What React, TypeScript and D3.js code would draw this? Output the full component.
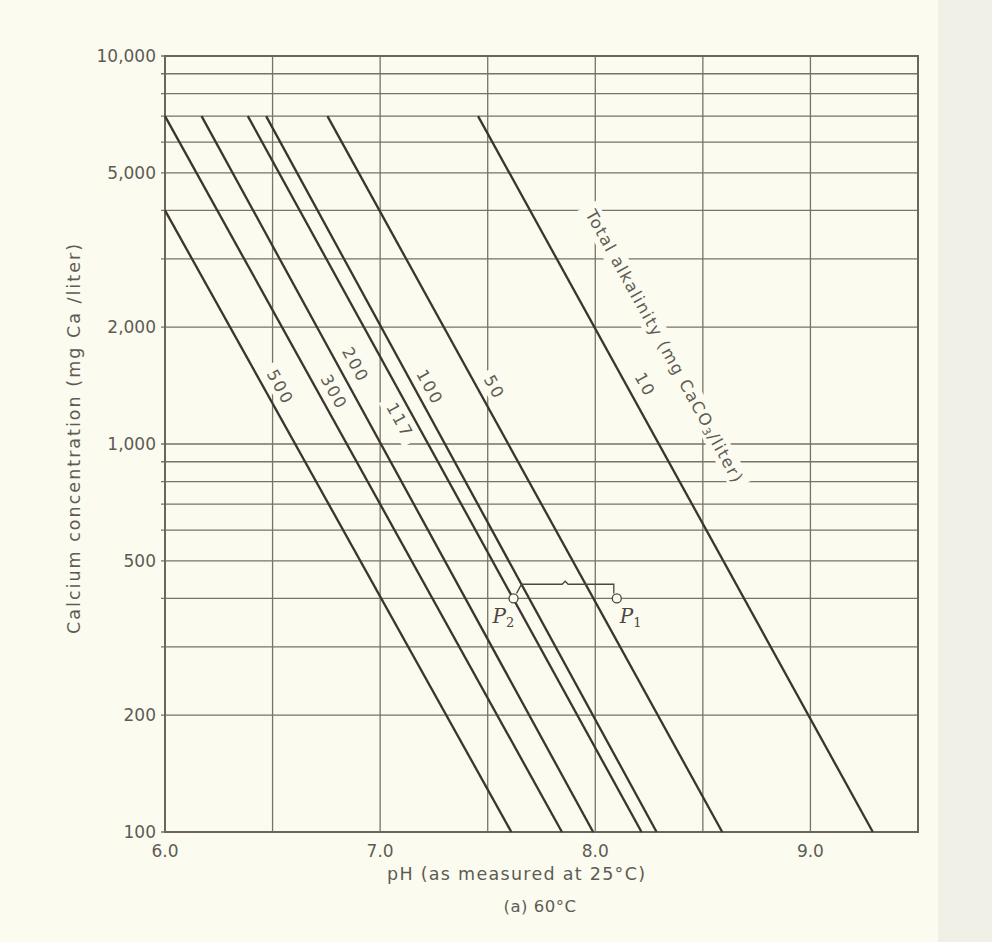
import React from "react";
import * as d3 from "d3";

// ---- data ----
const X_DOMAIN: [number, number] = [6.0, 9.5];
const Y_DOMAIN: [number, number] = [100, 10000];
const xTickValues = [6.0, 7.0, 8.0, 9.0];
const xTickLabels = ["6.0", "7.0", "8.0", "9.0"];
const xGridValues = [6.0, 6.5, 7.0, 7.5, 8.0, 8.5, 9.0, 9.5];
const yTickValues = [100, 200, 500, 1000, 2000, 5000, 10000];
const yTickLabels = ["100", "200", "500", "1,000", "2,000", "5,000", "10,000"];
const yGridValues = [
  100, 200, 300, 400, 500, 600, 700, 800, 900, 1000,
  2000, 3000, 4000, 5000, 6000, 7000, 8000, 9000, 10000,
];

// total alkalinity lines (mg CaCO3/liter)
const alkalinity = ["500", "300", "200", "117", "100", "50", "10"];
const startPH = [6.0, 6.0, 6.17, 6.385, 6.47, 6.755, 7.455];
const startCa = [4000, 7000, 7000, 7000, 7000, 7000, 7000];
const endPH = [7.61, 7.845, 7.99, 8.215, 8.285, 8.59, 9.29];
const endCa = [100, 100, 100, 100, 100, 100, 100];
const labelPH = [6.535, 6.785, 6.885, 7.09, 7.23, 7.53, 8.23];
const labelCa = [1400, 1360, 1600, 1150, 1400, 1400, 1420];

// points P1 / P2
const pointNames = ["2", "1"];
const pointPH = [7.62, 8.1];
const pointCa = [400, 400];
const bracketCa = 435;

const titleAlk = { ph: 8.32, ca: 1790 };

const W = 992;
const H = 942;

export default function App() {
  const x = d3.scaleLinear().domain(X_DOMAIN).range([165, 918]);
  const y = d3.scaleLog().domain(Y_DOMAIN).range([832, 56]);

  const lineColor = "#3a3530";
  const gridColor = "#77726b";
  const textColor = "#5e5b56";
  const paper = "#fcfbef";
  const sans = "'DejaVu Sans', Verdana, sans-serif";
  const serif = "'DejaVu Serif', 'Liberation Serif', serif";

  const line = d3
    .line<[number, number]>()
    .x((d) => x(d[0]))
    .y((d) => y(d[1]));

  const angleOf = (i: number) => {
    const dx = x(endPH[i]) - x(startPH[i]);
    const dy = y(endCa[i]) - y(startCa[i]);
    return (Math.atan2(dy, dx) * 180) / Math.PI;
  };
  const ang = angleOf(6);

  const mid = (x(pointPH[0]) + x(pointPH[1])) / 2;

  return (
    <svg
      width={W}
      height={H}
      style={{ position: "absolute", left: 0, top: 0, background: paper }}
    >
      <rect x={0} y={0} width={W} height={H} fill={paper} />
      <rect x={938} y={0} width={W - 938} height={H} fill="#f1f0e6" />

      {/* grid */}
      {yGridValues.map((v) => (
        <line
          key={"hy" + v}
          x1={x(X_DOMAIN[0]) - 4}
          x2={x(X_DOMAIN[1])}
          y1={y(v)}
          y2={y(v)}
          stroke={gridColor}
          strokeWidth={1.3}
        />
      ))}
      {xGridValues.map((v) => (
        <line
          key={"vx" + v}
          x1={x(v)}
          x2={x(v)}
          y1={y(Y_DOMAIN[0])}
          y2={y(Y_DOMAIN[1])}
          stroke={gridColor}
          strokeWidth={1.3}
        />
      ))}
      {/* frame */}
      <rect
        x={x(X_DOMAIN[0])}
        y={y(Y_DOMAIN[1])}
        width={x(X_DOMAIN[1]) - x(X_DOMAIN[0])}
        height={y(Y_DOMAIN[0]) - y(Y_DOMAIN[1])}
        fill="none"
        stroke="#6a655e"
        strokeWidth={2}
      />

      {/* label backgrounds (break grid) */}
      {alkalinity.map((a, i) => (
        <g
          key={"bg" + a}
          transform={`translate(${x(labelPH[i])},${y(labelCa[i])}) rotate(${angleOf(i)})`}
        >
          <rect
            x={-a.length * 7 - 4}
            y={-10}
            width={a.length * 14 + 8}
            height={20}
            fill={paper}
          />
        </g>
      ))}
      <g transform={`translate(${x(titleAlk.ph)},${y(titleAlk.ca)}) rotate(${ang})`}>
        <rect x={-160} y={-11} width={320} height={22} fill={paper} />
      </g>

      {/* alkalinity lines */}
      {alkalinity.map((a, i) => (
        <path
          key={"l" + a}
          d={
            line([
              [startPH[i], startCa[i]],
              [endPH[i], endCa[i]],
            ]) || ""
          }
          stroke={lineColor}
          strokeWidth={2.3}
          fill="none"
        />
      ))}

      {/* line labels */}
      {alkalinity.map((a, i) => (
        <text
          key={"t" + a}
          transform={`translate(${x(labelPH[i])},${y(labelCa[i])}) rotate(${angleOf(i)})`}
          textAnchor="middle"
          dominantBaseline="central"
          fontFamily={sans}
          fontSize={16.5}
          letterSpacing={2}
          fill={textColor}
        >
          {a}
        </text>
      ))}
      <text
        transform={`translate(${x(titleAlk.ph)},${y(titleAlk.ca)}) rotate(${ang})`}
        textAnchor="middle"
        dominantBaseline="central"
        fontFamily={sans}
        fontSize={16.5}
        textLength={308}
        lengthAdjust="spacing"
        fill={textColor}
      >
        Total alkalinity (mg CaCO
        <tspan fontSize={11} dy={4}>
          3
        </tspan>
        <tspan dy={-4}>/liter)</tspan>
      </text>

      {/* P1 / P2 bracket */}
      <path
        d={`M${x(pointPH[0]) + 3},${y(pointCa[0]) - 5} L${x(pointPH[0]) + 8},${y(bracketCa)} L${mid - 3},${y(bracketCa)} L${mid},${y(bracketCa) - 3} L${mid + 3},${y(bracketCa)} L${x(pointPH[1]) - 3},${y(bracketCa)} L${x(pointPH[1]) - 3},${y(pointCa[1]) - 5}`}
        fill="none"
        stroke="#4a4640"
        strokeWidth={1.3}
      />
      {pointNames.map((n, i) => (
        <g key={"p" + n}>
          <circle
            cx={x(pointPH[i])}
            cy={y(pointCa[i])}
            r={4.5}
            fill={paper}
            stroke="#4a4640"
            strokeWidth={1.3}
          />
          <text
            x={x(pointPH[i]) + (i === 0 ? -21 : 3)}
            y={y(pointCa[i]) + 25}
            fontFamily={serif}
            fontStyle="italic"
            fontSize={20}
            fill="#4a4640"
          >
            P
            <tspan fontSize={13} dy={4} fontStyle="normal">
              {n}
            </tspan>
          </text>
        </g>
      ))}

      {/* y tick labels */}
      {yTickValues.map((v, i) => (
        <text
          key={"yl" + v}
          x={x(X_DOMAIN[0]) - 9}
          y={y(v)}
          textAnchor="end"
          dominantBaseline="central"
          fontFamily={sans}
          fontSize={17}
          fill={textColor}
        >
          {yTickLabels[i]}
        </text>
      ))}
      {/* x tick labels */}
      {xTickValues.map((v, i) => (
        <text
          key={"xl" + v}
          x={x(v)}
          y={857}
          textAnchor="middle"
          fontFamily={sans}
          fontSize={17}
          fill={textColor}
        >
          {xTickLabels[i]}
        </text>
      ))}

      {/* axis titles */}
      <text
        x={516}
        y={880}
        textAnchor="middle"
        fontFamily={sans}
        fontSize={17.5}
        textLength={258}
        lengthAdjust="spacing"
        fill={textColor}
      >
        pH (as measured at 25°C)
      </text>
      <text
        transform={`translate(80,439) rotate(-90)`}
        textAnchor="middle"
        fontFamily={sans}
        fontSize={17.5}
        textLength={390}
        lengthAdjust="spacing"
        fill={textColor}
      >
        Calcium concentration (mg Ca /liter)
      </text>
      <text
        x={540}
        y={912}
        textAnchor="middle"
        fontFamily={sans}
        fontSize={16.5}
        letterSpacing={0.5}
        fill={textColor}
      >
        (a) 60°C
      </text>
    </svg>
  );
}
